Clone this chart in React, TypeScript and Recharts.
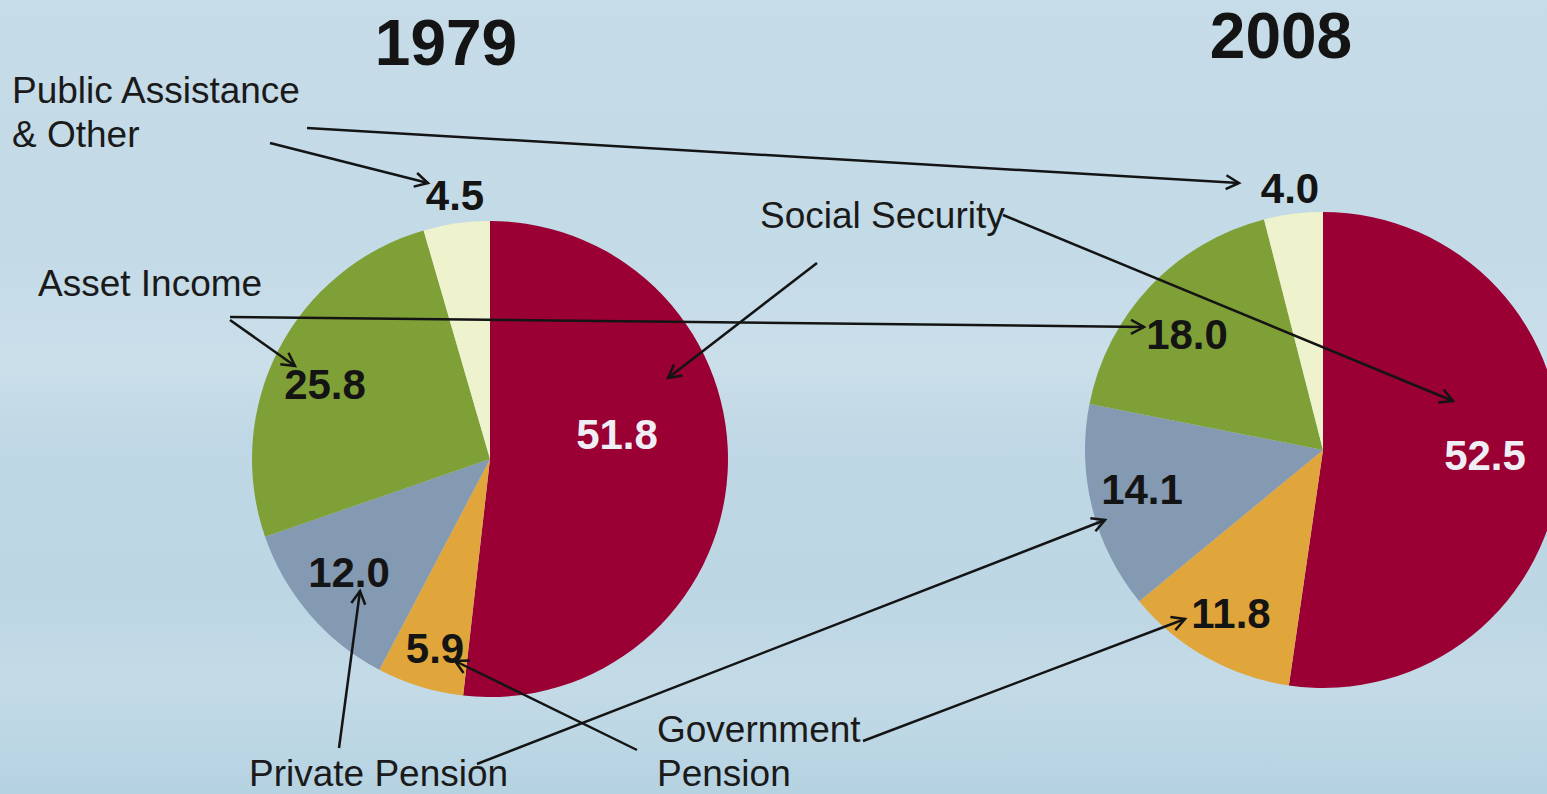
import React from 'react';
import { PieChart, Pie, Cell } from 'recharts';

const categories = ['Social Security', 'Government Pension', 'Private Pension', 'Asset Income', 'Public Assistance & Other'];
const values1979 = [51.8, 5.9, 12.0, 25.8, 4.5];
const values2008 = [52.5, 11.8, 14.1, 18.0, 4.0];
const years = ['1979', '2008'];

const colors = ['#9a0034', '#e0a63c', '#8499b2', '#7fa037', '#eef3cd'];
const labelColors = ['#f0eef5', '#141414', '#141414', '#141414', '#141414'];

// label offsets from pie centre (manual placement, like the original slide)
const offsets1979 = [[127, -25], [-55, 189], [-141, 113], [-165, -75], [-35, -264]];
const offsets2008 = [[162, 5], [-92, 163], [-181, 39], [-136, -116], [-33, -262]];

const data1979 = categories.map((name, i) => ({ name, value: values1979[i] }));
const data2008 = categories.map((name, i) => ({ name, value: values2008[i] }));

const FONT = '"Liberation Sans", Arial, sans-serif';

const makeLabel = (offsets: number[][]) => (props: any) => {
  const { cx, cy, index, value } = props;
  const [dx, dy] = offsets[index];
  return (
    <text
      x={cx + dx}
      y={cy + dy}
      textAnchor="middle"
      dominantBaseline="central"
      fill={labelColors[index]}
      fontFamily={FONT}
      fontWeight="bold"
      fontSize={42}
    >
      {Number(value).toFixed(1)}
    </text>
  );
};

// annotation arrows: [x1, y1, x2, y2]
const arrows = [
  [270, 143, 428, 183],
  [307, 128, 1239, 183],
  [230, 320, 295, 366],
  [230, 317, 1144, 327],
  [817, 263, 668, 378],
  [1003, 215, 1453, 401],
  [339, 748, 360, 591],
  [477, 764, 1105, 520],
  [637, 750, 455, 661],
  [863, 741, 1185, 619],
];

const textLabels = [
  { x: 12, y: 103, t: 'Public Assistance' },
  { x: 12, y: 147, t: '& Other' },
  { x: 38, y: 296, t: 'Asset Income' },
  { x: 760, y: 228, t: 'Social Security' },
  { x: 657, y: 742, t: 'Government' },
  { x: 657, y: 786, t: 'Pension' },
  { x: 249, y: 786, t: 'Private Pension' },
];

export default function App() {
  return (
    <div
      style={{
        position: 'absolute',
        left: 0,
        top: 0,
        width: 1547,
        height: 794,
        overflow: 'hidden',
        background:
          'linear-gradient(180deg, #c6dce8 0%, #c3dae7 30%, #cadfea 46%, #c0d8e5 55%, #bdd6e4 75%, #c4dbe7 86%, #b5d2e1 100%)',
      }}
    >
      <PieChart
        width={1547}
        height={794}
        margin={{ top: 0, right: 0, bottom: 0, left: 0 }}
        style={{ position: 'absolute', left: 0, top: 0 }}
      >
        <Pie
          data={data1979}
          dataKey="value"
          cx={490}
          cy={459}
          outerRadius={238}
          startAngle={90}
          endAngle={-270}
          stroke="none"
          label={makeLabel(offsets1979)}
          labelLine={false}
          isAnimationActive={false}
        >
          {data1979.map((d, i) => (
            <Cell key={`a-${i}`} fill={colors[i]} />
          ))}
        </Pie>
        <Pie
          data={data2008}
          dataKey="value"
          cx={1323}
          cy={450}
          outerRadius={238}
          startAngle={90}
          endAngle={-270}
          stroke="none"
          label={makeLabel(offsets2008)}
          labelLine={false}
          isAnimationActive={false}
        >
          {data2008.map((d, i) => (
            <Cell key={`b-${i}`} fill={colors[i]} />
          ))}
        </Pie>
      </PieChart>
      <svg width={1547} height={794} style={{ position: 'absolute', left: 0, top: 0, pointerEvents: 'none' }}>
        <defs>
          <marker
            id="chev"
            markerWidth={20}
            markerHeight={20}
            refX={15}
            refY={9}
            orient="auto"
            markerUnits="userSpaceOnUse"
          >
            <path d="M2,2 L15,9 L2,16" fill="none" stroke="#141414" strokeWidth={2.5} />
          </marker>
        </defs>
        <text x={446} y={65} textAnchor="middle" fontFamily={FONT} fontWeight="bold" fontSize={64} fill="#141414">
          {years[0]}
        </text>
        <text x={1281} y={58} textAnchor="middle" fontFamily={FONT} fontWeight="bold" fontSize={64} fill="#141414">
          {years[1]}
        </text>
        {textLabels.map((l, i) => (
          <text key={i} x={l.x} y={l.y} fontFamily={FONT} fontSize={37} fill="#1a1a1a">
            {l.t}
          </text>
        ))}
        {arrows.map(([x1, y1, x2, y2], i) => (
          <line
            key={i}
            x1={x1}
            y1={y1}
            x2={x2}
            y2={y2}
            stroke="#141414"
            strokeWidth={2.5}
            markerEnd="url(#chev)"
          />
        ))}
      </svg>
    </div>
  );
}
